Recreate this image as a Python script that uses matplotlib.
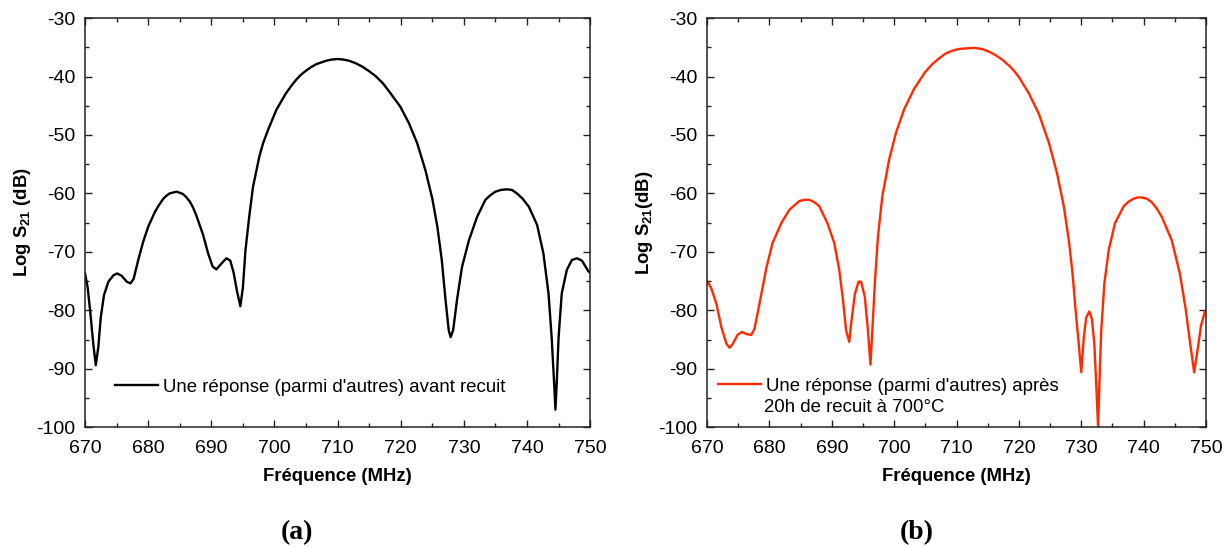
import numpy as np
import matplotlib
matplotlib.use('Agg')
import matplotlib.pyplot as plt
from matplotlib.ticker import MultipleLocator

plt.rcParams['font.family'] = ['Liberation Sans', 'DejaVu Sans']
plt.rcParams['axes.unicode_minus'] = False
plt.rcParams['mathtext.fontset'] = 'custom'
plt.rcParams['mathtext.rm'] = 'Liberation Sans'
plt.rcParams['mathtext.bf'] = 'Liberation Sans:bold'

# ========================================
# 1. Données
# ========================================
freq_a = [670.0, 670.4, 670.8, 671.3, 671.7, 672.1, 672.5, 673.0, 673.7, 674.5,
          675.1, 675.8, 676.6, 677.2, 677.7, 678.4, 679.2, 680.0, 681.1, 681.7,
          682.4, 683.0, 683.4, 684.5, 685.5, 686.0, 686.6, 687.1, 687.6, 688.7,
          689.5, 690.2, 690.8, 691.6, 692.4, 693.0, 693.5, 694.1, 694.6, 695.0,
          695.4, 696.0, 696.6, 697.6, 698.2, 699.0, 700.3, 701.8, 702.6, 703.4,
          704.2, 705.0, 705.8, 706.6, 707.4, 708.2, 709.1, 710.0, 710.9, 711.8,
          712.8, 713.9, 715.0, 716.1, 717.2, 718.2, 719.0, 719.9, 721.3, 722.6,
          723.9, 725.0, 725.8, 726.5, 727.1, 727.6, 727.9, 728.3, 728.9, 729.7,
          730.8, 732.1, 733.4, 734.2, 735.0, 735.9, 736.8, 737.6, 738.4, 739.3,
          740.3, 741.6, 742.6, 743.4, 743.9, 744.3, 744.5, 744.7, 745.0, 745.5,
          746.3, 747.1, 747.9, 748.7, 749.7, 750.0]
s21_a = [-73.7, -76.0, -80.0, -85.7, -89.4, -86.3, -81.1, -77.4, -75.1, -74.0,
         -73.7, -74.1, -75.1, -75.4, -74.6, -71.5, -68.3, -65.7, -63.1, -62.0,
         -60.9, -60.3, -60.0, -59.7, -60.1, -60.6, -61.4, -62.4, -63.7, -67.1,
         -70.3, -72.5, -73.0, -72.0, -71.1, -71.5, -73.4, -76.9, -79.3, -76.1,
         -69.8, -64.0, -58.9, -53.7, -51.4, -49.1, -45.7, -42.9, -41.7, -40.6,
         -39.7, -39.0, -38.4, -37.9, -37.6, -37.3, -37.1, -37.0, -37.1, -37.3,
         -37.7, -38.3, -39.1, -40.0, -41.2, -42.6, -43.8, -45.1, -48.0, -51.4,
         -56.0, -60.9, -65.7, -71.4, -78.3, -83.4, -84.6, -83.4, -78.3, -72.6,
         -68.0, -64.0, -61.1, -60.3, -59.7, -59.4, -59.3, -59.4, -60.0, -60.9,
         -62.3, -65.4, -70.3, -77.1, -84.6, -92.6, -97.0, -92.6, -84.6, -77.1,
         -73.1, -71.4, -71.1, -71.5, -73.3, -73.6]

freq_b = [670.0, 670.7, 671.5, 672.3, 673.1, 673.6, 674.1, 674.9, 675.6, 676.4,
          677.1, 677.6, 678.4, 679.5, 680.5, 681.9, 683.2, 684.8, 685.6, 686.4,
          687.2, 688.0, 689.3, 690.4, 691.2, 691.8, 692.3, 692.8, 693.1, 693.7,
          694.3, 694.7, 695.3, 695.8, 696.2, 696.5, 696.9, 697.4, 698.1, 699.2,
          700.3, 701.6, 703.2, 705.0, 706.1, 707.2, 708.2, 709.3, 710.3, 711.4,
          712.8, 714.1, 715.1, 716.2, 717.3, 718.4, 719.2, 720.0, 721.6, 723.2,
          724.8, 726.1, 727.2, 728.0, 728.6, 729.1, 729.6, 730.0, 730.4, 730.8,
          731.3, 731.7, 732.1, 732.4, 732.7, 732.9, 733.2, 733.7, 734.4, 735.4,
          736.8, 737.6, 738.4, 739.0, 739.7, 740.5, 741.3, 742.1, 742.9, 744.5,
          745.8, 746.7, 747.4, 748.1, 748.7, 749.2, 749.8, 750.0]
s21_b = [-74.9, -76.3, -78.9, -82.9, -85.7, -86.4, -85.8, -84.2, -83.7, -84.1,
         -84.2, -83.2, -78.9, -72.8, -68.5, -65.1, -62.8, -61.3, -61.1, -61.1,
         -61.5, -62.2, -65.1, -68.5, -73.1, -78.3, -83.5, -85.4, -82.3, -77.2,
         -75.1, -75.1, -77.7, -83.5, -89.3, -83.5, -75.4, -67.4, -60.5, -54.2,
         -49.6, -45.6, -42.1, -39.2, -37.9, -36.9, -36.1, -35.6, -35.3, -35.2,
         -35.1, -35.3, -35.7, -36.3, -37.1, -38.1, -39.0, -40.1, -42.9, -46.4,
         -51.3, -56.5, -62.2, -68.0, -73.7, -80.1, -85.8, -90.6, -84.7, -81.2,
         -80.2, -81.5, -85.8, -92.7, -100.0, -92.7, -83.5, -75.4, -69.7, -65.1,
         -62.2, -61.4, -60.9, -60.7, -60.7, -60.9, -61.5, -62.6, -64.0, -68.0,
         -73.7, -79.5, -85.2, -90.6, -86.4, -82.6, -80.3, -80.0]

label_a = "Une réponse (parmi d'autres) avant recuit"
label_b1 = "Une réponse (parmi d'autres) après"
label_b2 = "20h de recuit à 700°C"

# ========================================
# 2. Figure
# ========================================
fig = plt.figure(figsize=(12.29, 5.47), dpi=100)
ax_a = fig.add_axes([0.0692, 0.219, 0.411, 0.748])
ax_b = fig.add_axes([0.5753, 0.219, 0.406, 0.748])

panels = [
    (ax_a, freq_a, s21_a, 'black', label_a, r'Log S$_{\mathbf{21}}$ (dB)', (0.059, 0.098)),
    (ax_b, freq_b, s21_b, '#ff2a00', label_b1, r'Log S$_{\mathbf{21}}$(dB)', (0.022, 0.100)),
]

for ax, f, s, col, lab, ylab, leg_pos in panels:
    ax.plot(f, s, color=col, lw=1.7, label=lab)
    ax.set_xlim(670, 750)
    ax.set_ylim(-100, -30)
    ax.xaxis.set_major_locator(MultipleLocator(10))
    ax.xaxis.set_minor_locator(MultipleLocator(5))
    ax.yaxis.set_major_locator(MultipleLocator(10))
    ax.yaxis.set_minor_locator(MultipleLocator(5))
    ax.tick_params(which='both', direction='in', top=True, right=True,
                   labelsize=14, width=1, color='#222222')
    ax.tick_params(axis='x', which='major', length=5, pad=9)
    ax.tick_params(axis='y', which='major', length=5, pad=7)
    ax.tick_params(which='minor', length=3)
    for sp in ax.spines.values():
        sp.set_linewidth(1.1)
        sp.set_color('#222222')
    ax.set_xlabel('Fréquence (MHz)', fontsize=13.3, fontweight='bold', labelpad=8)
    ax.set_ylabel(ylab, fontsize=13.3, fontweight='bold')
    ax.yaxis.set_label_coords(-0.104, 0.5)
    ax.legend(loc='center left', bbox_to_anchor=leg_pos, frameon=False,
              fontsize=13.4, handlelength=2.3, handletextpad=0.27,
              borderpad=0, borderaxespad=0)

# deuxième ligne de la légende (b)
ax_b.text(0.114, 0.047, label_b2, transform=ax_b.transAxes, ha='left', va='center',
          fontsize=13.4)

# étiquettes (a) et (b)
for xpos, tag in [(0.2417, '(a)'), (0.746, '(b)')]:
    fig.text(xpos, 0.026, tag, ha='center', va='center', fontsize=20,
             fontweight='bold', family=['Liberation Serif', 'DejaVu Serif'])

fig.savefig('out.png', dpi=100)
